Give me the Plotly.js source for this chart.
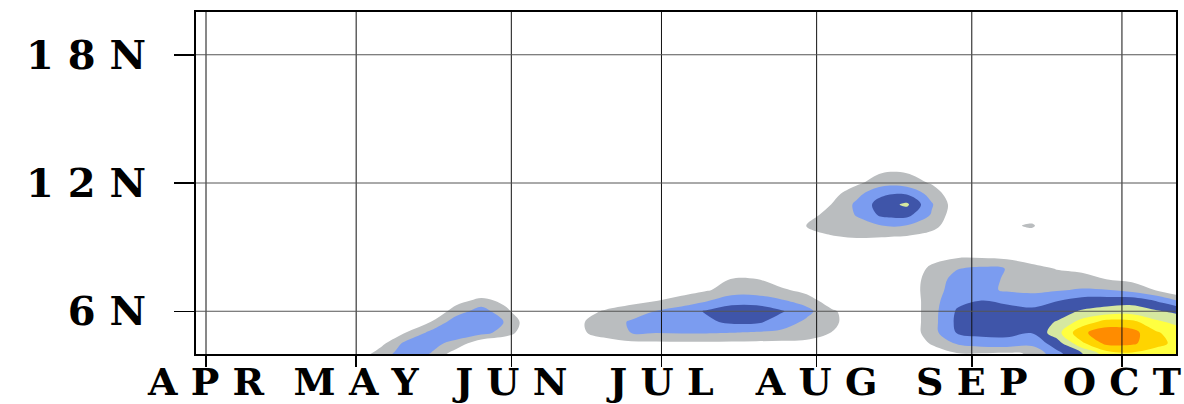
<!DOCTYPE html>
<html><head><meta charset="utf-8">
<script src="https://cdn.plot.ly/plotly-3.0.1.min.js"></script>
<style>html,body{margin:0;padding:0;background:#fff;} #chart{width:1184px;height:404px;}</style>
</head><body><div id="chart"></div>
<script>
// Month tick positions (days after 1 April) and labels
const monthDays = [0, 30, 61, 91, 122, 153, 183];
const monthLabels = ['A P R', 'M A Y', 'J U N', 'J U L', 'A U G', 'S E P', 'O C T'];
// Latitude ticks
const latTicks = [6, 12, 18];
const latLabels = ['6 N', '1 2 N', '1 8 N'];

// Grid: days after 1 April (columns) and latitude (rows)
const days = [-5, 25, 30, 35, 40, 45, 50, 55, 60, 65, 70, 75, 80, 85, 90, 95, 100, 105, 110, 115, 120, 125, 130, 135, 140, 145, 150, 155, 160, 165, 170, 175, 180, 185, 190, 195];
const lats = [3, 3.5, 4, 4.5, 5, 5.5, 6, 6.5, 7, 7.5, 8, 8.5, 9, 9.5, 10, 10.5, 11, 11.5, 12, 12.5, 13, 14, 20];

// Field values (contour level index)
const lat3_0  = [0, 0.8,2.0,2.5,1.5,0.5,0,0,0,0, 0,0,0,0,0,0,0,0,0,0,0,0,0,0, 0,0.1,0.3,0.3,0.4,1.0,2.3,3.5,4.6,5.0,4.8,4.6];
const lat3_5  = [0, 0.3,1.2,2.4,2.4,1.2,0.2,0,0,0, 0,0,0,0.1,0.2,0.2,0.2,0.2,0.2,0.2,0.1,0,0,0, 0,0.2,0.5,0.5,0.6,1.2,2.6,3.8,5.2,5.6,5.3,5.0];
const lat4_0  = [0, 0,0.2,1.6,2.5,1.95,0.4,0,0,0, 0,0,0.1,0.3,0.3,0.3,0.3,0.3,0.3,0.3,0.3,0.1,0,0, 0,0.5,0.9,0.9,0.8,1.1,2.7,3.9,5.5,5.8,5.5,5.3];
const lat4_5  = [0, 0,0,0.7,2.3,2.3,1.7,0.2,0,0, 0,0.3,0.5,0.75,0.8,0.82,0.82,0.8,0.78,0.75,0.7,0.4,0,0, 0.2,1.1,2.1,2.5,2.6,2.3,3.5,5.8,7.3,7.2,6.3,5.6];
const lat5_0  = [0, 0,0,0.1,1.02,2.3,2.6,2.4,1.5,0.1, 0.2,0.85,1.5,2.02,2.05,2.1,2.1,2.02,1.9,1.8,1.6,0.98,0.2,0, 0.2,1.6,3.05,3.3,3.3,3.05,4.6,6.8,7.6,7.4,6.1,5.4];
const lat5_5  = [0, 0,0,0,0.2,1.02,2.6,2.8,1.9,0.2, 0.2,0.9,1.6,2.1,2.3,2.6,2.8,3.2,3.2,2.5,1.8,1.3,0.3,0, 0.2,1.6,3.2,3.5,3.4,3.6,4.05,5.4,6.4,6.3,5.2,4.6];
const lat6_0  = [0, 0,0,0,0,0.1,1.5,2.5,1.2,0, 0,0.4,1.2,1.6,2.05,2.5,3.1,3.5,3.5,3.1,2.3,1.2,0.3,0, 0.2,1.6,3.1,3.4,3.35,3.3,3.6,4.1,4.4,4.5,4.1,3.7];
const lat6_5  = [0, 0,0,0,0,0,0.6,1.3,0.7,0, 0,0,0,0.6,0.95,1.4,1.9,2.6,2.6,2.1,1.6,0.3,0,0, 0.2,1.6,2.75,3.02,2.8,2.45,2.95,3.4,3.5,3.6,2.9,1.8];
const lat7_0  = [0, 0,0,0,0,0,0,0,0,0, 0,0,0,0,0,0.5,0.9,1.4,1.4,1.2,0.6,0,0,0, 0.3,1.6,2.4,2.3,1.85,1.8,1.9,2.1,2.02,1.6,0.9,0];
const lat7_5  = [0, 0,0,0,0,0,0,0,0,0, 0,0,0,0,0,0,0.4,1.05,1.02,0.3,0,0,0,0, 0.3,1.5,2.3,2.3,1.9,1.5,1.4,1.3,0.98,0.75,0.4,0];
const lat8_0  = [0, 0,0,0,0,0,0,0,0,0, 0,0,0,0,0,0,0,0,0,0,0,0,0,0, 0.3,1.2,1.95,2.2,1.98,1.3,0.95,0.8,0.6,0.4,0.2,0];
const lat8_5  = [0, 0,0,0,0,0,0,0,0,0, 0,0,0,0,0,0,0,0,0,0,0,0,0,0, 0.2,0.7,0.97,0.98,0.85,0.6,0.4,0.3,0.2,0.1,0,0];
const lat9_0  = [0, 0,0,0,0,0,0,0,0,0, 0,0,0,0,0,0,0,0,0,0,0.1,0.3,0.4,0.4, 0.3,0.2,0.3,0.3,0.2,0,0,0,0,0,0,0];
const lat9_5  = [0, 0,0,0,0,0,0,0,0,0, 0,0,0,0,0,0,0,0,0,0,0.5,0.95,1.1,1.05, 0.95,0.6,0,0,0.2,0.6,0.1,0,0,0,0,0];
const lat10_0 = [0, 0,0,0,0,0,0,0,0,0, 0,0,0,0,0,0,0,0,0,0.2,1.05,1.4,1.7,1.98, 1.95,1.4,0.2,0,0.85,1.1,0.3,0,0,0,0,0];
const lat10_5 = [0, 0,0,0,0,0,0,0,0,0, 0,0,0,0,0,0,0,0,0,0,0.6,1.4,2.05,3.2, 3.3,1.9,0.3,0,0.3,0.6,0,0,0,0,0,0];
const lat11_0 = [0, 0,0,0,0,0,0,0,0,0, 0,0,0,0,0,0,0,0,0,0,0.3,1.02,2.2,3.5, 4.2,2.1,0.4,0,0,0,0,0,0,0,0,0];
const lat11_5 = [0, 0,0,0,0,0,0,0,0,0, 0,0,0,0,0,0,0,0,0,0,0,0.6,1.7,2.8, 2.9,1.6,0.2,0,0,0,0,0,0,0,0,0];
const lat12_0 = [0, 0,0,0,0,0,0,0,0,0, 0,0,0,0,0,0,0,0,0,0,0,0,0.8,1.6, 1.5,0.9,0,0,0,0,0,0,0,0,0,0];
const lat12_5 = [0, 0,0,0,0,0,0,0,0,0, 0,0,0,0,0,0,0,0,0,0,0,0,0.2,0.95, 0.95,0.3,0,0,0,0,0,0,0,0,0,0];
const lat13_0 = [0, 0,0,0,0,0,0,0,0,0, 0,0,0,0,0,0,0,0,0,0,0,0,0,0, 0,0,0,0,0,0,0,0,0,0,0,0];
const lat14_0 = [0, 0,0,0,0,0,0,0,0,0, 0,0,0,0,0,0,0,0,0,0,0,0,0,0, 0,0,0,0,0,0,0,0,0,0,0,0];
const lat20_0 = [0, 0,0,0,0,0,0,0,0,0, 0,0,0,0,0,0,0,0,0,0,0,0,0,0, 0,0,0,0,0,0,0,0,0,0,0,0];

const field = [lat3_0, lat3_5, lat4_0, lat4_5, lat5_0, lat5_5, lat6_0, lat6_5, lat7_0, lat7_5,
               lat8_0, lat8_5, lat9_0, lat9_5, lat10_0, lat10_5, lat11_0, lat11_5, lat12_0, lat12_5,
               lat13_0, lat14_0, lat20_0];

// Fill colours: below first level, then each band upward
const levelColors = ['#ffffff', '#babdbf', '#7b9cf0', '#3f55a9', '#d6e8a0', '#ffff40', '#ffd400', '#ff8c00'];
const colorscale = levelColors.map((c, i) => [i / (levelColors.length - 1), c]);

const trace = {
  type: 'contour', x: days, y: lats, z: field,
  autocontour: false,
  contours: {start: 1, end: 7, size: 1, coloring: 'fill', showlines: false},
  colorscale: colorscale, showscale: false,
  line: {smoothing: 1, width: 0},
  hoverinfo: 'skip'
};

const shapes = [];
monthDays.forEach(d => shapes.push({type: 'line', xref: 'x', yref: 'paper', x0: d, x1: d, y0: 0, y1: 1,
  line: {color: '#111', width: 1}, layer: 'above'}));
latTicks.forEach(v => shapes.push({type: 'line', xref: 'paper', yref: 'y', x0: 0, x1: 1, y0: v, y1: v,
  line: {color: '#555', width: 1}, layer: 'above'}));

const xFont = {family: 'DejaVu Serif', size: 38, color: '#000', weight: 'bold'};
const yFont = {family: 'DejaVu Serif', size: 40, color: '#000', weight: 'bold'};

const layout = {
  width: 1184, height: 404,
  margin: {l: 196, r: 8, t: 12, b: 50},
  paper_bgcolor: '#ffffff', plot_bgcolor: '#ffffff',
  showlegend: false,
  xaxis: {range: [-2, 193.8], tickvals: monthDays, ticktext: monthLabels, ticks: 'outside', ticklen: 11,
    tickwidth: 1.5, tickcolor: '#000', showgrid: false, zeroline: false, showline: true, mirror: true,
    linecolor: '#000', linewidth: 2, tickfont: xFont, ticklabelstandoff: -18, ticklabeloverflow: 'allow'},
  yaxis: {range: [4, 20], tickvals: latTicks, ticktext: latLabels, ticks: 'outside', ticklen: 20,
    tickwidth: 1.5, tickcolor: '#000', showgrid: false, zeroline: false, showline: true, mirror: true,
    linecolor: '#000', linewidth: 2, tickfont: yFont, ticklabelstandoff: 20},
  shapes: shapes
};

Plotly.newPlot('chart', [trace], layout, {staticPlot: true});
</script>
</body></html>
